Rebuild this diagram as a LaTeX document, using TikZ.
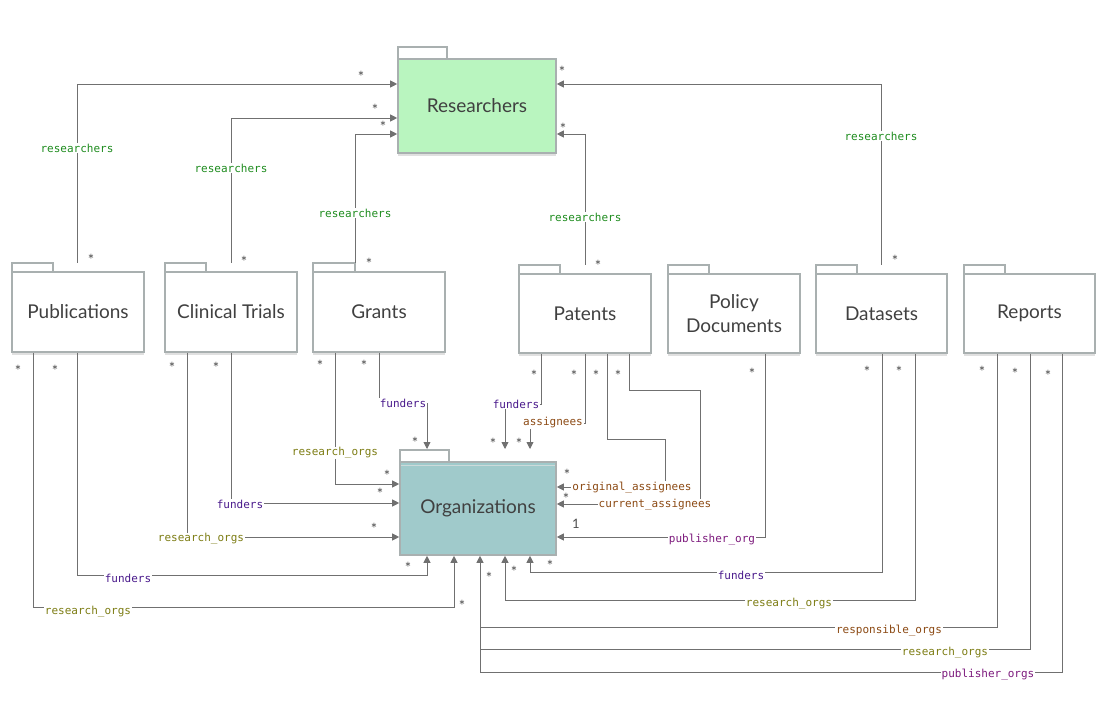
\documentclass[tikz,border=0pt]{standalone}
\usepackage{fontspec}
\setmainfont{Lato}
\newfontfamily\monof{DejaVu Sans Mono}
\usetikzlibrary{arrows.meta}
\definecolor{bord}{HTML}{A9B0B0}
\definecolor{ln}{HTML}{707070}
\definecolor{cres}{HTML}{1E8C1E}
\definecolor{cfun}{HTML}{4A1A8C}
\definecolor{corg}{HTML}{7D7D14}
\definecolor{cass}{HTML}{8C4A14}
\definecolor{cpub}{HTML}{7D1A7D}
\definecolor{gfill}{HTML}{B9F5BF}
\definecolor{ofill}{HTML}{A0CACB}
\begin{document}
\begin{tikzpicture}[x=1pt,y=-1pt,
  box/.style={draw=bord,line width=1.6pt,fill=white,minimum width=#1,inner sep=0pt,font=\fontsize{19}{22}\selectfont,text=black!75,align=center},
  tab/.style={draw=bord,line width=1.6pt,fill=white},
  con/.style={draw=ln,line width=0.9pt},
  arr/.style={con,-{Triangle[length=7pt,width=7pt]}},
  lab/.style={font=\monof\fontsize{11}{13}\selectfont,fill=white,inner sep=1pt},
  st/.style={font=\fontsize{15}{16}\selectfont,text=black!70,inner sep=0pt,yshift=-3pt}]
\useasboundingbox (0,0) rectangle (1116,711);
% tabs
\foreach \a/\b/\c/\d in {398/447/47/59, 12/53/263/272, 165/206/263/272, 313/355/263/272, 519/560/265/274, 668/709/265/274, 816/857/265/274, 964/1005/265/274, 400/449/450/462}
  \draw[tab] (\a,\c) rectangle (\b,\d);
% shadows
\foreach \a/\b/\c in {398/556/155, 12/144/354, 165/297/354, 313/445/354, 519/651/355, 668/800/355, 816/947/355, 964/1095/355}
  \draw[black!12,line width=2pt] (\a,\c) -- (\b,\c);
% boxes
\node[box=158pt,minimum height=94pt,fill=gfill] (res) at (477,106) {Researchers};
\node[box=156pt,minimum height=93pt,fill=ofill] (org) at (478,508.5) {Organizations};
\draw[ofill!80!black!40,line width=0.8pt] (401,465) -- (555,465);
\node[box=132pt,minimum height=80pt] (pub) at (78,312) {Publications};
\node[box=132pt,minimum height=80pt] (cli) at (231,312) {Clinical Trials};
\node[box=132pt,minimum height=80pt] (gra) at (379,312) {Grants};
\node[box=132pt,minimum height=79pt] (pat) at (585,313.5) {Patents};
\node[box=132pt,minimum height=79pt] (pol) at (734,313.5) {Policy\\[2pt]Documents};
\node[box=131pt,minimum height=79pt] (dat) at (881.5,313.5) {Datasets};
\node[box=131pt,minimum height=79pt] (rep) at (1029.5,313.5) {Reports};
% researchers connectors
\draw[arr] (77,263) -- (77,84) -- (res.west |- 0,84);
\node[lab,text=cres] at (77,148) {researchers};
\draw[arr] (231,263) -- (231,118) -- (res.west |- 0,118);
\node[lab,text=cres] at (231,168) {researchers};
\draw[arr] (355,263) -- (355,134) -- (res.west |- 0,134);
\node[lab,text=cres] at (355,213) {researchers};
\draw[arr] (585,265) -- (585,134) -- (res.east |- 0,134);
\node[lab,text=cres] at (585,217) {researchers};
\draw[arr] (881,265) -- (881,84) -- (res.east |- 0,84);
\node[lab,text=cres] at (881,136) {researchers};
\foreach \x/\y in {91/257,361/74,244/259,375/107,369/261,383/124,598/263,563/126,895/258,562/69}
  \node[st] at (\x,\y) {*};
% publications
\draw[arr] (pub.south -| 77,0) -- (77,575) -- (427,575) -- (org.south -| 427,0);
\node[lab,text=cfun] at (128,578) {funders};
\draw[arr] (pub.south -| 33,0) -- (33,607) -- (454,607) -- (org.south -| 454,0);
\node[lab,text=corg] at (88,612) {research\_orgs};
% clinical
\draw[arr] (cli.south -| 187,0) -- (187,537) -- (org.west |- 0,537);
\node[lab,text=corg] at (201,539) {research\_orgs};
\draw[arr] (cli.south -| 231,0) -- (231,503) -- (org.west |- 0,503);
\node[lab,text=cfun] at (240,504) {funders};
% grants
\draw[arr] (gra.south -| 335,0) -- (335,484) -- (org.west |- 0,484);
\node[lab,text=corg] at (335,453) {research\_orgs};
\draw[arr] (gra.south -| 379,0) -- (379,403) -- (427,403) -- (427,449);
\node[lab,text=cfun] at (403,403) {funders};
% patents
\draw[arr] (pat.south -| 541,0) -- (541,404) -- (505,404) -- (505,449);
\node[lab,text=cfun] at (516,404) {funders};
\draw[arr] (pat.south -| 585,0) -- (585,423) -- (530,423) -- (530,449);
\node[lab,text=cass] at (553,423) {assignees};
\draw[arr] (pat.south -| 607,0) -- (607,439) -- (665,439) -- (665,487) -- (org.east |- 0,487);
\node[lab,text=cass] at (632,488) {original\_assignees};
\draw[arr] (pat.south -| 629,0) -- (629,390) -- (700,390) -- (700,504) -- (org.east |- 0,504);
\node[lab,text=cass] at (655,505) {current\_assignees};
% policy
\draw[arr] (pol.south -| 765,0) -- (765,537) -- (org.east |- 0,537);
\node[lab,text=cpub] at (712,540) {publisher\_org};
% datasets
\draw[arr] (dat.south -| 882,0) -- (882,572) -- (530,572) -- (org.south -| 530,0);
\node[lab,text=cfun] at (741,575) {funders};
\draw[arr] (dat.south -| 915,0) -- (915,600) -- (505,600) -- (org.south -| 505,0);
\node[lab,text=corg] at (789,604) {research\_orgs};
% reports
\draw[arr] (rep.south -| 997,0) -- (997,627) -- (480,627) -- (org.south -| 480,0);
\node[lab,text=cass] at (889,631) {responsible\_orgs};
\draw[con] (rep.south -| 1030,0) -- (1030,649) -- (480,649) -- (480,627);
\node[lab,text=corg] at (945,653) {research\_orgs};
\draw[con] (rep.south -| 1062,0) -- (1062,672) -- (480,672) -- (480,649);
\node[lab,text=cpub] at (988,675) {publisher\_orgs};
% lower stars
\foreach \x/\y in {55/368,18/368,408/565,462/603,172/365,374/526,216/365,380/491,320/363,387/473,364/363,415/440,534/373,493/441,574/373,519/441,596/373,567/472,618/373,566/496,752/371,867/369,550/563,899/369,514/569,982/369,489/575,1015/371,1048/373}
  \node[st] at (\x,\y) {*};
\node[st,font=\fontsize{13}{14}\selectfont,yshift=3pt] at (576,524) {1};
\end{tikzpicture}
\end{document}
